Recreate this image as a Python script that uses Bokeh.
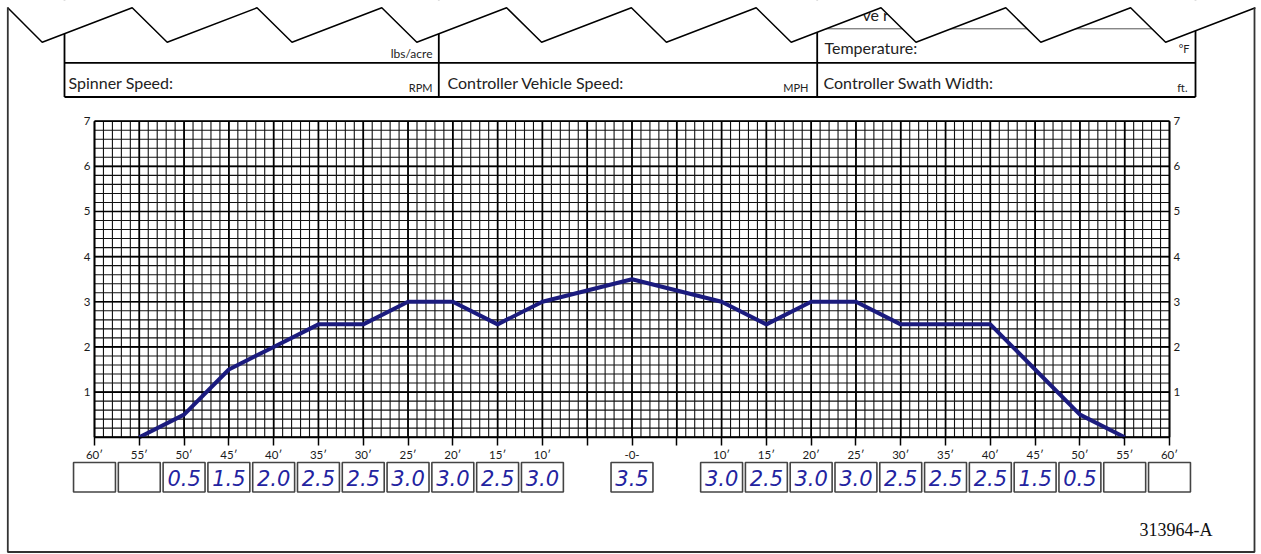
from bokeh.plotting import figure
from bokeh.models import FixedTicker, LinearAxis, Range1d
from bokeh.core.properties import value
from bokeh.embed import file_html
from bokeh.resources import INLINE

# ---------------- data ----------------
positions = [-55, -50, -45, -40, -35, -30, -25, -20, -15, -10, 0,
             10, 15, 20, 25, 30, 35, 40, 45, 50, 55]
rates = [0, 0.5, 1.5, 2.0, 2.5, 2.5, 3.0, 3.0, 2.5, 3.0, 3.5,
         3.0, 2.5, 3.0, 3.0, 2.5, 2.5, 2.5, 1.5, 0.5, 0]

box_positions = [-60, -55, -50, -45, -40, -35, -30, -25, -20, -15, -10, 0,
                 10, 15, 20, 25, 30, 35, 40, 45, 50, 55, 60]
box_labels = ["", "", "0.5", "1.5", "2.0", "2.5", "2.5", "3.0", "3.0", "2.5", "3.0",
              "3.5",
              "3.0", "2.5", "3.0", "3.0", "2.5", "2.5", "2.5", "1.5", "0.5", "", ""]

x_ticks = [-60, -55, -50, -45, -40, -35, -30, -25, -20, -15, -10, -5, 0,
           5, 10, 15, 20, 25, 30, 35, 40, 45, 50, 55, 60]
x_tick_labels = ["60\u2032", "55\u2032", "50\u2032", "45\u2032", "40\u2032", "35\u2032",
                 "30\u2032", "25\u2032", "20\u2032", "15\u2032", "10\u2032", "", "-0-",
                 "", "10\u2032", "15\u2032", "20\u2032", "25\u2032", "30\u2032", "35\u2032",
                 "40\u2032", "45\u2032", "50\u2032", "55\u2032", "60\u2032"]
x_minor = list(range(-60, 61))
y_ticks = [0, 1, 2, 3, 4, 5, 6, 7]
y_tick_labels = ["", "1", "2", "3", "4", "5", "6", "7"]
y_minor = [round(i * 0.2, 1) for i in range(36)]

header_labels = ["Temperature:", "Spinner Speed:", "Controller Vehicle Speed:",
                 "Controller Swath Width:"]
header_units = ["lbs/acre", "\u00b0F", "RPM", "MPH", "ft."]
form_id = "313964-A"

# ---------------- layout (pixels) ----------------
W, H = 1261, 554
X_LEFT, X_RIGHT = 94.0, 1169.0      # pixel positions of -60 ft and +60 ft
Y_ZERO, Y_TOP = 436.7, 120.7        # pixel positions of 0 and 7
kx = (X_RIGHT - X_LEFT) / 120.0
ky = (Y_ZERO - Y_TOP) / 7.0

x_range = Range1d(-60 - X_LEFT / kx, 60 + (W - X_RIGHT) / kx)
y_range = Range1d(-(H - Y_ZERO) / ky, Y_ZERO / ky)

p = figure(width=W, height=H, x_range=x_range, y_range=y_range,
           output_backend="svg", toolbar_location=None,
           x_axis_location=None, y_axis_location=None,
           min_border=0, min_border_left=0, min_border_right=0,
           min_border_top=0, min_border_bottom=0)
p.extra_x_ranges = {"px": Range1d(0, W)}
p.extra_y_ranges = {"py": Range1d(H, 0)}
p.background_fill_color = "white"
p.border_fill_color = "white"
p.outline_line_color = None
p.grid.visible = False

PX = dict(x_range_name="px", y_range_name="py")

# ---------------- chart grid ----------------
p.segment(x0=x_minor, y0=[0] * len(x_minor), x1=x_minor, y1=[7] * len(x_minor),
          line_color="#111111", line_width=1.1)
p.segment(x0=[-60] * len(y_minor), y0=y_minor, x1=[60] * len(y_minor), y1=y_minor,
          line_color="#111111", line_width=1.1)
p.segment(x0=x_ticks, y0=[0] * len(x_ticks), x1=x_ticks, y1=[7] * len(x_ticks),
          line_color="black", line_width=1.7)
p.segment(x0=[-60] * len(y_ticks), y0=y_ticks, x1=[60] * len(y_ticks), y1=y_ticks,
          line_color="black", line_width=1.7)

# ---------------- axes ----------------
xt = FixedTicker(ticks=x_ticks, minor_ticks=[])
yt = FixedTicker(ticks=y_ticks, minor_ticks=[])

xa = LinearAxis(ticker=xt, fixed_location=0, bounds=(-60, 60))
xa.major_label_overrides = {t: s for t, s in zip(x_ticks, x_tick_labels)}
xa.major_tick_out = 8
xa.major_tick_in = 0
xa.minor_tick_out = 0
xa.minor_tick_in = 0
xa.axis_line_width = 1.5
xa.major_tick_line_width = 1.5
xa.major_label_standoff = 3
xa.major_label_text_font = "Lato"
xa.major_label_text_font_size = "11.5px"
xa.major_label_text_color = "#1a1a1a"
p.add_layout(xa, "below")

for loc, side in ((-60, "left"), (60, "right")):
    ax = LinearAxis(ticker=yt, fixed_location=loc, bounds=(0, 7))
    ax.major_label_overrides = {t: s for t, s in zip(y_ticks, y_tick_labels)}
    ax.major_tick_out = 0
    ax.major_tick_in = 0
    ax.minor_tick_out = 0
    ax.minor_tick_in = 0
    ax.axis_line_width = 1.5
    ax.major_label_standoff = 4
    ax.major_label_text_font = "Lato"
    ax.major_label_text_font_size = "11.5px"
    ax.major_label_text_color = "#1a1a1a"
    p.add_layout(ax, side)

# ---------------- spread curve ----------------
p.line(positions, rates, line_color="#1b1b7e", line_width=4, line_join="round")

# ---------------- value boxes ----------------
p.quad(left=[b - 2.34 for b in box_positions], right=[b + 2.34 for b in box_positions],
       top=[462] * len(box_positions), bottom=[491.5] * len(box_positions),
       y_range_name="py", fill_alpha=0, line_color="#444444", line_width=1.6)
vals = [(b, s) for b, s in zip(box_positions, box_labels) if s]
p.text(x=[b for b, s in vals], y=[477.3] * len(vals), text=[s for b, s in vals],
       y_range_name="py", text_font=value("DejaVu Sans"), text_font_style="italic",
       text_font_size="21px", text_align="center", text_baseline="middle",
       text_color="#2323a0")

# ---------------- header form ----------------
for vx in (64, 438.3, 816.7, 1195):
    p.line([vx, vx], [0, 96.5], line_color="black", line_width=1.8, **PX)
p.line([64, 1195], [62.3, 62.3], line_color="black", line_width=1.8, **PX)
p.line([64, 1195], [96.5, 96.5], line_color="black", line_width=1.8, **PX)
p.line([816.7, 1195], [28.3, 28.3], line_color="#555555", line_width=1, **PX)

p.text(x=[824, 68, 447, 823], y=[47, 81.5, 81.5, 81.5], text=header_labels,
       text_font=value("Lato"), text_font_size="16px", text_align="left",
       text_baseline="middle", text_color="#222222", **PX)
p.text(x=[432], y=[52.5], text=header_units[:1], text_font=value("Lato"),
       text_font_size="12px", text_align="right", text_baseline="middle",
       text_color="#222222", **PX)
p.text(x=[1189, 432, 808, 1187], y=[48, 86.5, 86.5, 86.5], text=header_units[1:],
       text_font=value("Lato"), text_font_size="11px", text_align="right",
       text_baseline="middle", text_color="#222222", **PX)
p.text(x=[862], y=[14], text=["ve r"], text_font=value("Lato"), text_font_size="16px",
       text_align="left", text_baseline="middle", text_color="#222222", **PX)

# torn-paper edge: white above, black zigzag line
pitch = 124.8
zig_x = [7, 41.7]
zig_y = [7, 41.7]
for k in range(10):
    zig_x.append(131.7 + pitch * k)
    zig_y.append(7.3)
    if k < 9:
        zig_x.append(166.7 + pitch * k)
        zig_y.append(41.7)
p.patch(zig_x + [W + 20, -20], zig_y + [-20, -20], fill_color="white", line_color=None, **PX)
p.line(zig_x, zig_y, line_color="black", line_width=1.5, **PX)

# outer border
p.line([7.3, 7.3, 1254, 1254], [7, 551.5, 551.5, 7.3], line_color="#333333",
       line_width=1.8, **PX)

p.text(x=[1139], y=[529], text=[form_id], text_font=value("Liberation Serif"),
       text_font_size="18px", text_align="left", text_baseline="middle",
       text_color="#111111", **PX)

open("out.html", "w").write(file_html(p, INLINE))
